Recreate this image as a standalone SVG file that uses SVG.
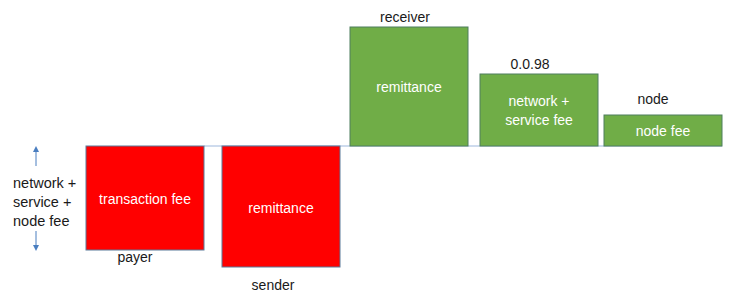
<svg xmlns="http://www.w3.org/2000/svg" width="750" height="304" viewBox="0 0 750 304">
<defs>
<style>
.red{fill:#FF0000;stroke:#5B7B9A;stroke-width:1}
.green{fill:#70AD47;stroke:#4E7F5E;stroke-width:1}
.in{font-family:"Liberation Sans",Arial,sans-serif;font-size:14px;fill:#FFFFFF;text-anchor:middle}
.lbl{font-family:"Liberation Sans",Arial,sans-serif;font-size:14px;fill:#1A1A1A;text-anchor:middle}
.ln{stroke:#9DB7DC;stroke-width:1;fill:none}
.arr{stroke:#4A7EC0;stroke-width:1;fill:none}
</style>
<marker id="ah" markerWidth="6" markerHeight="6" refX="3" refY="3" orient="auto" markerUnits="userSpaceOnUse">
<path d="M0,0 L6,3 L0,6 Z" fill="#4A7EC0"/>
</marker>
</defs>
<rect width="750" height="304" fill="#FFFFFF"/>
<g id="connectors">
<line class="ln" x1="204" y1="146" x2="722" y2="146"/>
<line class="arr" x1="36" y1="166" x2="36" y2="149" marker-end="url(#ah)"/>
<line class="arr" x1="36" y1="231" x2="36" y2="248" marker-end="url(#ah)"/>
</g>
<g id="legend">
<text class="lbl" style="text-anchor:start;font-size:14.5px" x="13" y="188">network +</text>
<text class="lbl" style="text-anchor:start;font-size:14.5px" x="13" y="207">service +</text>
<text class="lbl" style="text-anchor:start;font-size:14.5px" x="13" y="226">node fee</text>
</g>
<g id="transaction-fee">
<rect class="red" x="86" y="146" width="118" height="104"/>
<text class="in" x="145" y="204">transaction fee</text>
<text class="lbl" x="135" y="262">payer</text>
</g>
<g id="sender-remittance">
<rect class="red" x="222" y="146" width="118" height="121"/>
<text class="in" x="281" y="213">remittance</text>
<text class="lbl" x="273" y="290">sender</text>
</g>
<g id="receiver-remittance">
<rect class="green" x="350" y="27" width="118" height="119"/>
<text class="in" x="409" y="92">remittance</text>
<text class="lbl" x="405" y="22">receiver</text>
</g>
<g id="network-service-fee">
<rect class="green" x="480" y="74" width="118" height="72"/>
<text class="in" x="539" y="106">network +</text>
<text class="in" x="539" y="125">service fee</text>
<text class="lbl" x="530" y="69">0.0.98</text>
</g>
<g id="node-fee">
<rect class="green" x="604" y="115" width="118" height="31"/>
<text class="in" x="663" y="136">node fee</text>
<text class="lbl" x="653" y="104">node</text>
</g>
</svg>
